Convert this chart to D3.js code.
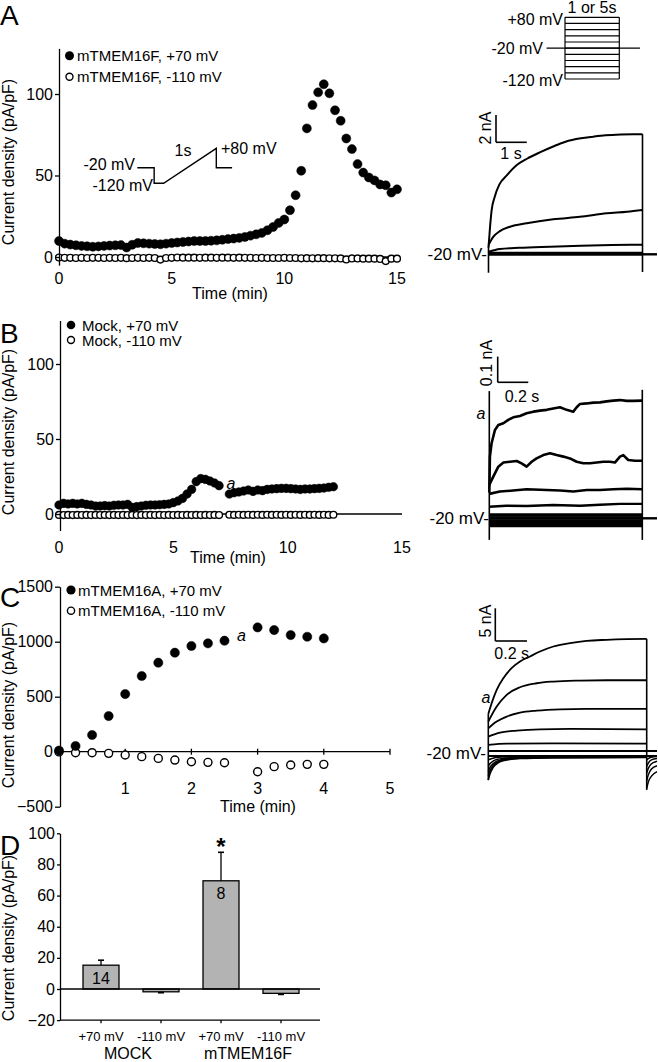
<!DOCTYPE html>
<html><head><meta charset="utf-8">
<script src="https://cdn.jsdelivr.net/npm/d3@7"></script>
<style>
body{margin:0;background:#fff;}
svg text{font-family:"Liberation Sans", Arial, Helvetica, sans-serif; fill:#000;}
</style></head><body>
<svg id="chart" width="658" height="1062"></svg>
<script>
// ================= DATA =================
// Panel A: mTMEM16F time course (sampled every 0.25 min)
const aInterval = 0.25;
const aPos = [9.8,8.2,7.6,7.2,6.8,6.6,6.3,6.5,6.8,7.0,
              7.2,7.3,5.8,7.5,8.6,8.4,8.2,8.0,7.8,8.2,
              8.6,8.9,9.2,9.5,9.8,9.8,9.8,10.0,10.2,10.6,
              11.0,11.3,11.7,12.3,13.1,13.9,14.8,16.4,18.4,20.9,
              23.0,28.7,37.9,52.9,78.9,93.2,101,106,100.4,90,
              83.6,72.7,66.2,57,51.8,48.8,47,44.5,44,39.5,
              41.5];
const aNeg = [-0.3,-0.5,-0.5,-0.6,-0.5,-0.6,-0.5,-0.5,-0.6,-0.5,
              -0.6,-0.5,-0.7,-0.6,-0.5,-0.6,-0.5,-0.6,-1.6,-0.6,
              -0.5,-0.3,-0.4,-0.4,-0.4,-0.5,-0.4,-0.4,-0.5,-0.4,
              -0.4,-0.5,-0.4,-0.5,-0.5,-0.6,-0.5,-0.6,-0.6,-0.6,
              -0.5,-0.6,-0.6,-0.8,-0.7,-0.8,-0.7,-0.7,-0.8,-0.8,
              -0.9,-1.5,-0.9,-0.9,-1.0,-1.0,-1.0,-1.2,-2.5,-1.0,
              -1.0];
const aXTicks = [0,5,10,15];
const aYTicks = [0,50,100];
const aLegend = ["mTMEM16F, +70 mV","mTMEM16F, -110 mV"];
// ramp protocol inset (s, mV)
const rampT = [0,0.32,0.32,0.5,1.5,1.5,1.8];
const rampV = [-20,-20,-120,-120,80,-20,-20];

// Panel B: Mock time course
const bInterval1 = 0.2;             // first segment starts at 0
const bPos1 = [6.0,7.1,6.7,7.1,6.7,7.1,6.4,6.0,5.3,5.3,
               5.6,5.3,5.8,6.0,6.0,6.4,4.4,4.9,5.3,5.8,
               6.0,6.0,6.2,6.4,6.7,7.6,8.7,10.4,13.3,16.4,
               21.6,23.6,23.1,22.0,20.7,18.9];
const bNeg1 = [-0.6,-0.7,-0.6,-0.7,-0.6,-0.7,-0.6,-0.7,-0.6,-0.7,
               -0.6,-0.7,-0.6,-0.7,-0.6,-0.7,-0.6,-0.7,-0.6,-0.7,
               -0.6,-0.7,-0.6,-0.7,-0.6,-0.7,-0.6,-0.7,-0.6,-0.7,
               -0.6,-0.7,-0.6,-0.7,-0.6,-0.7];
const bStart2 = 7.45, bEnd2 = 12.0;
const bPos2 = [13.3,14.2,14.7,15.3,16.0,15.1,16.0,15.6,16.4,16.7,
               16.9,17.1,17.1,16.9,16.7,16.4,16.7,16.7,16.9,17.1,
               17.3,17.8,18.2];
const bNeg2 = [-0.5,-0.6,-0.5,-0.6,-0.5,-0.6,-0.5,-0.6,-0.5,-0.6,
               -0.5,-0.6,-0.5,-0.6,-0.5,-0.6,-0.5,-0.6,-0.5,-0.6,
               -0.5,-0.6,-0.5];
const bXTicks = [0,5,10,15];
const bYTicks = [0,50,100];
const bLegend = ["Mock, +70 mV","Mock, -110 mV"];

// Panel C: mTMEM16A time course
const cTimes = [0,0.25,0.5,0.75,1.0,1.25,1.5,1.75,2.0,2.25,2.5,3.0,3.25,3.5,3.75,4.0];
const cPos = [10,52,152,324,524,688,809,900,961,985,1009,1130,1106,1060,1045,1030];
const cNeg = [-2,-9,-9,-15,-30,-45,-61,-76,-91,-97,-100,-182,-136,-121,-115,-115];
const cXTicks = [1,2,3,4,5];
const cYTicks = [-500,0,500,1000,1500];
const cLegend = ["mTMEM16A, +70 mV","mTMEM16A, -110 mV"];

// Panel D: summary bars
const dCats = ["+70 mV","-110 mV","+70 mV","-110 mV"];
const dGroups = ["MOCK","mTMEM16F"];
const dMeans = [15.3,-1.8,69.5,-2.8];
const dSem = [3.2,0.6,18.3,0.7];
const dN = ["14","","8",""];
const dYTicks = [-20,0,20,40,60,80,100];

// Step protocol (top right)
const stepLevels = [-120,-100,-80,-60,-40,-20,0,20,40,60,80];
const stepHold = [-0.34,1.38];   // s, holding segment extent

// Current traces, panel A (time s, current nA)
const trA1t = [0,0.05,0.1,0.2,0.35,0.6,0.9,1.25,1.7,2.1,2.5,3.0,3.4,3.8,4.3,4.7,5.0];
const trA1  = [0.5,2.0,3.2,4.2,5.1,5.8,6.5,7.0,7.5,7.9,8.25,8.5,8.62,8.72,8.78,8.8,8.8];
const trA2t = [0,0.16,0.37,0.7,1.24,2.1,2.97,3.84,4.5,5.0];
const trA2  = [0.68,1.29,1.7,2.02,2.27,2.56,2.75,3.0,3.12,3.25];
const trA3t = [0,0.37,1.0,2.0,3.0,4.0,5.0];
const trA3  = [0.19,0.39,0.48,0.56,0.63,0.68,0.7];
const trAbase = [0.12,0.05,0,-0.05];
const trAspan = [0,5,5.47];

// Current traces, panel B
const trB1t = [0,0.004,0.015,0.037,0.059,0.092,0.124,0.157,0.2,0.244,0.288,0.331,0.375,0.418,0.462,0.505,0.549,0.571,0.593,0.636,0.68,0.723,0.767,0.81,0.854,0.898,0.941,1.0];
const trB1  = [0.10,0.24,0.292,0.344,0.363,0.370,0.383,0.393,0.398,0.409,0.415,0.419,0.422,0.427,0.432,0.422,0.415,0.432,0.445,0.447,0.45,0.451,0.455,0.458,0.46,0.457,0.457,0.458];
const trB2t = [0,0.026,0.059,0.092,0.135,0.179,0.211,0.244,0.277,0.309,0.353,0.397,0.44,0.484,0.527,0.571,0.614,0.658,0.702,0.745,0.789,0.821,0.854,0.876,0.908,0.952,1.0];
const trB2  = [0.130,0.162,0.201,0.217,0.220,0.223,0.214,0.201,0.220,0.233,0.246,0.253,0.246,0.240,0.233,0.220,0.214,0.214,0.217,0.22,0.22,0.217,0.24,0.246,0.227,0.224,0.224];
const trB3t = [0,0.069,0.156,0.244,0.375,0.462,0.549,0.636,0.723,0.81,0.898,1.0];
const trB3  = [0.095,0.104,0.108,0.113,0.110,0.108,0.104,0.11,0.11,0.113,0.115,0.113];
const trB4t = [0,0.11,0.244,0.418,0.593,0.723,0.854,1.0];
const trB4  = [0.045,0.049,0.048,0.052,0.049,0.053,0.056,0.056];
const trBbase = [0.016,0.010,0.004,-0.002,-0.008,-0.014,-0.020,-0.026,-0.031];
const trBspan = [0,1,1.096];

// Current traces, panel C
const trC1t = [0,0.021,0.053,0.095,0.147,0.2,0.263,0.326,0.411,0.516,0.621,0.747,0.874,1.0];
const trC1  = [6.02,7.65,9.69,11.48,13.01,14.03,14.8,15.56,16.33,16.84,17.19,17.35,17.45,17.5];
const trC2t = [0,0.053,0.116,0.2,0.305,0.411,0.579,0.747,1.0];
const trC2  = [4.85,7.14,8.93,10.1,10.71,10.97,11.12,11.17,11.17];
const trC3t = [0,0.053,0.116,0.2,0.305,0.453,0.621,1.0];
const trC3  = [3.83,4.85,5.61,6.22,6.53,6.73,6.79,6.79];
const trC4t = [0,0.074,0.179,0.326,0.516,1.0];
const trC4  = [2.55,3.16,3.47,3.67,3.72,3.67];
const trC5t = [0,0.116,0.411,1.0];
const trC5  = [1.28,1.48,1.53,1.48];
const trCbase = [0.36,-0.41];
const trCnegT = [0,0.01,0.03,0.06,0.1,0.2,0.4,1.0];
const trCneg = [
  [-1.0,-0.9,-0.75,-0.6,-0.55,-0.5,-0.5,-0.5],
  [-2.0,-1.6,-1.2,-0.9,-0.75,-0.6,-0.55,-0.55],
  [-2.8,-2.2,-1.6,-1.15,-0.9,-0.68,-0.6,-0.58],
  [-3.4,-2.7,-1.9,-1.35,-1.0,-0.75,-0.65,-0.6],
  [-4.1,-3.2,-2.2,-1.5,-1.1,-0.8,-0.7,-0.65]
];
const trCtailT = [1.0,1.01,1.03,1.065];
const trCtail = [
  [-1.0,-0.8,-0.6,-0.5],
  [-2.0,-1.5,-1.0,-0.8],
  [-3.0,-2.3,-1.6,-1.2],
  [-4.2,-3.3,-2.4,-1.9],
  [-5.4,-4.4,-3.5,-2.8]
];
const trCspan = [0,1,1.065];

// ================= DRAWING =================
const svg = d3.select("#chart");
svg.append("rect").attr("width",658).attr("height",1062).attr("fill","#fff");
const SW = 1.3;

function txt(g, x, y, s, o = {}) {
  const t = g.append("text").attr("x", x).attr("y", y).text(s)
    .attr("font-size", o.size || 16)
    .attr("text-anchor", o.anchor || "middle")
    .attr("dominant-baseline", o.base || "central");
  if (o.rotate) t.attr("transform", `rotate(-90,${x},${y})`);
  if (o.italic) t.attr("font-style", "italic");
  if (o.weight) t.attr("font-weight", o.weight);
  return t;
}
function line(g, x1, y1, x2, y2, w) {
  return g.append("line").attr("x1", x1).attr("y1", y1).attr("x2", x2).attr("y2", y2)
    .attr("stroke", "#000").attr("stroke-width", w || SW);
}
function styleAxis(sel) {
  sel.selectAll("path,line").attr("stroke", "#000").attr("stroke-width", SW);
  sel.selectAll("text").attr("font-size", 16).attr("fill", "#000")
    .attr("font-family", '"Liberation Sans", Arial, sans-serif');
}
function yAxis(x, scale, lo, hi, ticks, size) {
  const s = scale.copy().domain([lo, hi]).range([scale(lo), scale(hi)]);
  svg.append("g").attr("transform", `translate(${x},0)`)
    .call(d3.axisLeft(s).tickValues(ticks).tickSizeInner(size || 4).tickSizeOuter(0).tickPadding(2).tickFormat(d3.format("d")))
    .call(styleAxis);
}
function scatter(g, xs, ys, x, y, filled, r) {
  g.selectAll(null).data(ys.map((v, i) => [xs[i], v])).join("circle")
    .attr("cx", d => x(d[0])).attr("cy", d => y(d[1])).attr("r", r)
    .attr("fill", filled ? "#000" : "#fff").attr("stroke", "#000")
    .attr("stroke-width", filled ? 0.5 : 1.4);
}
function legend(g, cx, cy1, cy2, tx, labels, rF, rO) {
  g.append("circle").attr("cx", cx).attr("cy", cy1).attr("r", rF).attr("fill", "#000");
  g.append("circle").attr("cx", cx).attr("cy", cy2).attr("r", rO).attr("fill", "#fff").attr("stroke", "#000").attr("stroke-width", 1.4);
  txt(g, tx, cy1, labels[0], {anchor: "start", size: 15});
  txt(g, tx, cy2, labels[1], {anchor: "start", size: 15});
}
function trace(g, x, y, ts, vs, w, curve) {
  g.append("path").datum(ts.map((t, i) => [t, vs[i]]))
    .attr("d", d3.line().x(d => x(d[0])).y(d => y(d[1])).curve(curve || d3.curveMonotoneX))
    .attr("fill", "none").attr("stroke", "#000").attr("stroke-width", w || 2)
    .attr("stroke-linejoin", "round");
}

// ---------- Panel letters ----------
[["A", 25], ["B", 343], ["C", 607], ["D", 855]].forEach(([s, y]) =>
  txt(svg, 0, y, s, {anchor: "start", base: "alphabetic", size: 28}));

// ---------- Panel A ----------
const gA = svg.append("g");
const xA = d3.scaleLinear().domain([0, 15]).range([59, 397]);
const yA = d3.scaleLinear().domain([0, 100]).range([257, 94]);
yAxis(59, yA, -5, 128, aYTicks);
line(gA, xA(0), yA(0), xA(15), yA(0));
aXTicks.forEach(v => txt(gA, xA(v), 278, String(v)));
txt(gA, 230, 293, "Time (min)");
txt(gA, 8, 162, "Current density (pA/pF)", {rotate: true});
const aT = aPos.map((_, i) => i * aInterval);
scatter(gA, aT, aNeg, xA, yA, false, 3.4);
scatter(gA, aT, aPos, xA, yA, true, 4.5);
legend(gA, 69.5, 55.7, 76.7, 77, aLegend, 4.5, 3.5);
// ramp inset
const xR = d3.scaleLinear().domain([0, 1.5]).range([137.3, 216.3]);
const yR = d3.scaleLinear().domain([-120, -20, 80]).range([183.3, 167.7, 148.3]);
gA.append("path").datum(rampT.map((t, i) => [t, rampV[i]]))
  .attr("d", d3.line().x(d => xR(d[0])).y(d => yR(d[1])))
  .attr("fill", "none").attr("stroke", "#000").attr("stroke-width", 1.4);
txt(gA, 135, 164, "-20 mV", {anchor: "end"});
txt(gA, 153, 185, "-120 mV", {anchor: "end"});
txt(gA, 183, 150, "1s");
txt(gA, 221, 148, "+80 mV", {anchor: "start"});

// ---------- Panel B ----------
const gB = svg.append("g");
const xB = d3.scaleLinear().domain([0, 15]).range([59, 402]);
const yB = d3.scaleLinear().domain([0, 100]).range([514, 364]);
yAxis(60, yB, -11, 129, bYTicks);
line(gB, 60, yB(0), xB(15), yB(0));
bXTicks.forEach(v => txt(gB, xB(v), 547, String(v)));
txt(gB, 228, 557, "Time (min)");
txt(gB, 8, 432, "Current density (pA/pF)", {rotate: true});
const bT1 = bPos1.map((_, i) => i * bInterval1);
const bStep2 = (bEnd2 - bStart2) / (bPos2.length - 1);
const bT2 = bPos2.map((_, i) => bStart2 + i * bStep2);
scatter(gB, bT1, bNeg1, xB, yB, false, 3.4);
scatter(gB, bT2, bNeg2, xB, yB, false, 3.4);
scatter(gB, bT1, bPos1, xB, yB, true, 4.3);
scatter(gB, bT2, bPos2, xB, yB, true, 4.3);
txt(gB, 231, 483, "a", {italic: true});
legend(gB, 71, 325, 340, 82, bLegend, 4.3, 3.5);

// ---------- Panel C ----------
const gC = svg.append("g");
const xC = d3.scaleLinear().domain([0, 5]).range([59, 390]);
const yC = d3.scaleLinear().domain([0, 1000]).range([751.7, 641.7]);
yAxis(60, yC, -500, 1500, cYTicks, 5);
line(gC, 60, yC(0), xC(5), yC(0));
cXTicks.forEach(v => { line(gC, xC(v), yC(0) - 3, xC(v), yC(0) + 3); txt(gC, xC(v), 788, String(v)); });
txt(gC, 258, 806, "Time (min)");
txt(gC, 8, 705, "Current density (pA/pF)", {rotate: true});
scatter(gC, cTimes, cNeg, xC, yC, false, 4);
scatter(gC, cTimes, cPos, xC, yC, true, 4.6);
txt(gC, 241.5, 635, "a", {italic: true});
legend(gC, 71, 590, 610.7, 78, cLegend, 4.6, 3.6);

// ---------- Panel D ----------
const gD = svg.append("g");
const xD = d3.scaleBand().domain(d3.range(dCats.length)).range([71, 311]).paddingInner(0.4).paddingOuter(0.2);
const yD = d3.scaleLinear().domain([0, 100]).range([989, 833.3]);
yAxis(60, yD, -20, 100, dYTicks, 3);
txt(gD, 8, 938, "Current density (pA/pF)", {rotate: true});
gD.selectAll(null).data(dMeans).join("rect")
  .attr("x", (d, i) => xD(i)).attr("width", xD.bandwidth())
  .attr("y", d => Math.min(yD(d), yD(0))).attr("height", d => Math.abs(yD(d) - yD(0)))
  .attr("fill", "#b3b3b3").attr("stroke", "#000").attr("stroke-width", SW);
dMeans.forEach((m, i) => {
  const cx = xD(i) + xD.bandwidth() / 2;
  const end = m >= 0 ? m + dSem[i] : m - dSem[i];
  line(gD, cx, yD(m), cx, yD(end));
  line(gD, cx - 3, yD(end), cx + 3, yD(end), 1.6);
  if (dN[i]) txt(gD, cx, m > 40 ? yD(m) + 12.5 : yD(m) + 13, dN[i]);
  txt(gD, cx, 1036, dCats[i], {size: 13});
  line(gD, cx, yD(-20), cx, yD(-20) + 3);
});
line(gD, 60, yD(0), 320, yD(0));
line(gD, 60, yD(-20), 320, yD(-20));
dGroups.forEach((g, k) => {
  const cx = (xD(2 * k) + xD(2 * k + 1) + xD.bandwidth()) / 2;
  txt(gD, cx - 3, 1053, g);
});
{
  const cx = xD(2) + xD.bandwidth() / 2;
  txt(gD, cx, yD(dMeans[2] + dSem[2]) + 3, "*", {base: "alphabetic", size: 24, weight: "bold"});
}

// ---------- Step protocol (top right) ----------
const gP = svg.append("g");
const xP = d3.scaleLinear().domain([0, 1]).range([565, 619.3]);
const yP = d3.scaleLinear().domain([-120, 80]).range([79, 17.3]);
stepLevels.forEach(v => line(gP, xP(0), yP(v), xP(1), yP(v), 1.2));
line(gP, xP(0), yP(-120), xP(0), yP(80), 1.2);
line(gP, xP(1), yP(-120), xP(1), yP(80), 1.2);
line(gP, xP(stepHold[0]), yP(-20), xP(stepHold[1]), yP(-20), 1.3);
txt(gP, 563, 19, "+80 mV", {anchor: "end"});
txt(gP, 543, 48, "-20 mV", {anchor: "end"});
txt(gP, 563, 80, "-120 mV", {anchor: "end"});
txt(gP, 592, 7.5, "1 or 5s");

// ---------- Traces A ----------
const gTA = svg.append("g");
const xTA = d3.scaleLinear().domain([0, 5]).range([488.5, 642.5]);
const yTA = d3.scaleLinear().domain([0, 2]).range([254.3, 227]);
trAbase.forEach(v => trace(gTA, xTA, yTA, [trAspan[0], trAspan[1]], [v, v], 1.6, d3.curveLinear));
trace(gTA, xTA, yTA, [trAspan[1], trAspan[2]], [0, 0], 2.4, d3.curveLinear);
trace(gTA, xTA, yTA, trA3t, trA3, 2);
trace(gTA, xTA, yTA, trA2t, trA2, 2);
trace(gTA, xTA, yTA, trA1t, trA1, 2);
line(gTA, xTA(0), yTA(0.6), xTA(0), yTA(-1.35), 1.6);
line(gTA, xTA(5), yTA(8.8), xTA(5), yTA(-1.3), 1.6);
{
  const x0 = 496, y0 = 142.3;
  line(gTA, x0, y0, x0, y0 - (yTA(0) - yTA(2)), 1.6);
  line(gTA, x0, y0, x0 + (xTA(1) - xTA(0)), y0, 1.6);
  txt(gTA, 485.5, 128, "2 nA", {rotate: true});
  txt(gTA, 511, 153, "1 s");
}
txt(gTA, 487, 254.3, "-20 mV-", {anchor: "end", size: 17});

// ---------- Traces B ----------
const gTB = svg.append("g");
const xTB = d3.scaleLinear().domain([0, 1]).range([489.3, 642.3]);
const yTB = d3.scaleLinear().domain([0, 0.1]).range([518.3, 492.6]);
trBbase.forEach(v => trace(gTB, xTB, yTB, [trBspan[0], trBspan[1]], [v, v], 2, d3.curveLinear));
trace(gTB, xTB, yTB, [trBspan[1], trBspan[2]], [0, 0], 2.4, d3.curveLinear);
trace(gTB, xTB, yTB, trB4t, trB4, 2.4, d3.curveLinear);
trace(gTB, xTB, yTB, trB3t, trB3, 2.6, d3.curveLinear);
trace(gTB, xTB, yTB, trB2t, trB2, 2.6, d3.curveLinear);
trace(gTB, xTB, yTB, trB1t, trB1, 2.6, d3.curveLinear);
line(gTB, xTB(0), yTB(0.495), xTB(0), yTB(-0.084), 1.6);
line(gTB, xTB(1), yTB(0.5), xTB(1), yTB(-0.084), 1.6);
{
  const x0 = 497.7, y0 = 382.3;
  line(gTB, x0, y0, x0, y0 - (yTB(0) - yTB(0.1)), 1.6);
  line(gTB, x0, y0, x0 + (xTB(0.2) - xTB(0)), y0, 1.6);
  txt(gTB, 486, 363, "0.1 nA", {rotate: true});
  txt(gTB, 522, 396, "0.2 s");
}
txt(gTB, 481, 413, "a", {italic: true});
txt(gTB, 489, 518.3, "-20 mV-", {anchor: "end", size: 17});

// ---------- Traces C ----------
const gTC = svg.append("g");
const xTC = d3.scaleLinear().domain([0, 1]).range([488.3, 646.7]);
const yTC = d3.scaleLinear().domain([0, 5]).range([753.3, 720.6]);
trCbase.forEach(v => trace(gTC, xTC, yTC, [trCspan[0], trCspan[2]], [v, v], 2, d3.curveLinear));
trCneg.forEach(vs => trace(gTC, xTC, yTC, trCnegT, vs, 1.5));
trCtail.forEach(vs => trace(gTC, xTC, yTC, trCtailT, vs, 1.5));
trace(gTC, xTC, yTC, trC5t, trC5, 1.8);
trace(gTC, xTC, yTC, trC4t, trC4, 1.8);
trace(gTC, xTC, yTC, trC3t, trC3, 1.8);
trace(gTC, xTC, yTC, trC2t, trC2, 1.8);
trace(gTC, xTC, yTC, trC1t, trC1, 1.8);
line(gTC, xTC(0), yTC(6.0), xTC(0), yTC(-4.1), 1.6);
line(gTC, xTC(1), yTC(17.5), xTC(1), yTC(-5.6), 1.6);
{
  const x0 = 495.3, y0 = 641;
  line(gTC, x0, y0, x0, y0 - (yTC(0) - yTC(5)), 1.6);
  line(gTC, x0, y0, x0 + (xTC(0.2) - xTC(0)), y0, 1.6);
  txt(gTC, 485.5, 621, "5 nA", {rotate: true});
  txt(gTC, 511.7, 653.3, "0.2 s");
}
txt(gTC, 486, 697, "a", {italic: true});
txt(gTC, 486, 753.3, "-20 mV-", {anchor: "end", size: 17});
</script>
</body></html>
